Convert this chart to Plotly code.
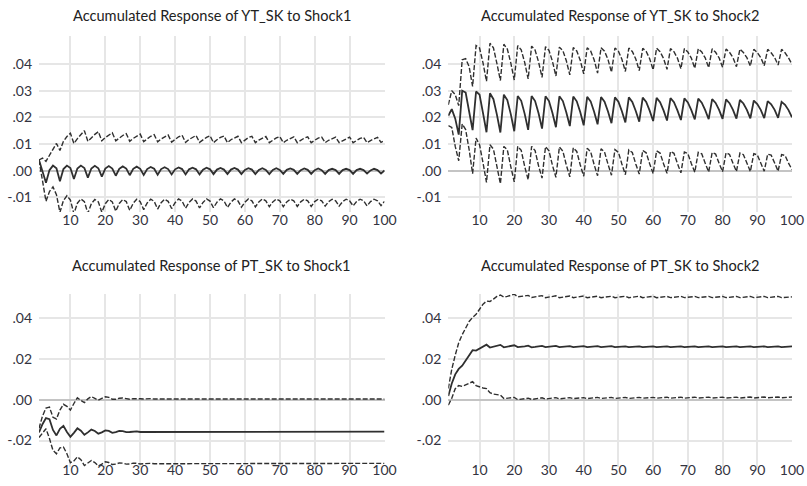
import plotly.graph_objects as go
from plotly.subplots import make_subplots

# horizon 1..100
periods = list(range(1, 101))

# all responses below are in units of 0.001
yt_s1_upper = [4.0, 4.7, 3.5, 6.0, 8.0, 10.2, 7.6, 11.0, 12.8, 14.0,
               10.2, 12.0, 13.6, 15.0, 11.0, 12.5, 13.6, 14.6, 11.2, 12.4,
               13.4, 14.2, 11.2, 12.3, 13.2, 13.9, 11.0, 12.1, 13.0, 13.7,
               10.9, 12.0, 12.9, 13.5, 10.8, 11.9, 12.8, 13.4, 10.7, 11.8,
               12.7, 13.3, 10.6, 11.7, 12.6, 13.2, 10.6, 11.7, 12.5, 13.1,
               10.5, 11.6, 12.5, 13.0, 10.5, 11.6, 12.4, 12.9, 10.5, 11.5,
               12.4, 12.9, 10.5, 11.5, 12.3, 12.8, 10.5, 11.5, 12.3, 12.8,
               10.5, 11.4, 12.2, 12.7, 10.5, 11.4, 12.2, 12.7, 10.5, 11.4,
               12.2, 12.6, 10.5, 11.4, 12.1, 12.6, 10.5, 11.3, 12.1, 12.6,
               10.5, 11.3, 12.1, 12.5, 10.5, 11.3, 12.0, 12.5, 10.6, 11.3]
yt_s1_resp = [4.0, 0.0, -4.5, 0.2, 1.9, 0.9, -4.0, 0.6, 1.9, 1.0,
              -3.1, 0.8, 1.9, 1.0, -2.6, 0.8, 1.8, 0.9, -2.2, 0.8,
              1.7, 0.8, -1.9, 0.7, 1.6, 0.8, -1.7, 0.7, 1.5, 0.7,
              -1.6, 0.6, 1.4, 0.7, -1.5, 0.6, 1.3, 0.6, -1.4, 0.5,
              1.2, 0.6, -1.4, 0.5, 1.1, 0.5, -1.4, 0.4, 1.1, 0.5,
              -1.3, 0.4, 1.0, 0.4, -1.3, 0.4, 1.0, 0.4, -1.3, 0.3,
              0.9, 0.4, -1.3, 0.3, 0.9, 0.3, -1.3, 0.3, 0.9, 0.3,
              -1.2, 0.3, 0.8, 0.3, -1.2, 0.2, 0.8, 0.3, -1.2, 0.2,
              0.8, 0.2, -1.2, 0.2, 0.7, 0.2, -1.2, 0.2, 0.7, 0.2,
              -1.2, 0.2, 0.7, 0.2, -1.1, 0.1, 0.7, 0.2, -1.1, 0.1]
yt_s1_lower = [4.0, -4.0, -11.5, -7.8, -6.1, -9.0, -15.6, -11.2, -9.4, -11.0,
               -16.2, -12.2, -10.6, -11.6, -16.0, -12.4, -10.8, -11.7, -15.6, -12.4,
               -10.8, -11.7, -15.2, -12.3, -10.8, -11.6, -14.9, -12.2, -10.7, -11.6,
               -14.6, -12.1, -10.7, -11.5, -14.4, -12.0, -10.7, -11.5, -14.2, -12.0,
               -10.6, -11.4, -14.1, -11.9, -10.6, -11.4, -14.0, -11.9, -10.6, -11.4,
               -13.9, -11.8, -10.6, -11.3, -13.8, -11.8, -10.6, -11.3, -13.7, -11.8,
               -10.6, -11.3, -13.6, -11.7, -10.6, -11.3, -13.5, -11.7, -10.6, -11.3,
               -13.5, -11.7, -10.7, -11.3, -13.4, -11.7, -10.7, -11.3, -13.4, -11.6,
               -10.7, -11.3, -13.3, -11.6, -10.7, -11.3, -13.3, -11.6, -10.7, -11.3,
               -13.2, -11.6, -10.7, -11.3, -13.2, -11.6, -10.7, -11.3, -13.1, -11.5]

yt_s2_upper = [24.7, 30.0, 28.5, 24.4, 41.6, 42.0, 39.0, 31.6, 46.9, 46.0,
               40.4, 33.5, 47.8, 46.1, 40.2, 33.8, 47.4, 45.6, 40.4, 34.0,
               46.9, 45.3, 40.6, 34.4, 46.7, 45.2, 40.8, 35.0, 46.5, 45.1,
               41.0, 35.5, 46.3, 45.0, 41.2, 35.9, 46.2, 44.9, 41.4, 36.3,
               46.1, 44.9, 41.6, 36.6, 46.1, 44.8, 41.7, 36.9, 46.0, 44.8,
               41.8, 37.2, 46.0, 44.7, 41.9, 37.5, 45.9, 44.7, 42.0, 37.8,
               45.9, 44.6, 42.1, 38.0, 45.8, 44.6, 42.2, 38.2, 45.8, 44.5,
               42.2, 38.4, 45.7, 44.5, 42.3, 38.6, 45.7, 44.4, 42.3, 38.8,
               45.6, 44.4, 42.4, 39.0, 45.6, 44.3, 42.4, 39.2, 45.5, 44.3,
               42.4, 39.4, 45.5, 44.2, 42.4, 39.6, 45.5, 44.2, 42.3, 39.9]
yt_s2_resp = [20.6, 23.1, 19.5, 13.5, 30.0, 29.3, 22.2, 15.2, 29.7, 28.5,
              21.6, 14.4, 29.0, 26.8, 21.0, 14.3, 28.5, 26.5, 21.2, 14.8,
              28.0, 26.2, 21.3, 15.3, 28.0, 26.1, 21.5, 15.8, 27.9, 26.1,
              21.6, 16.3, 27.9, 26.1, 21.8, 16.7, 27.8, 26.0, 22.0, 17.0,
              27.7, 26.0, 22.1, 17.4, 27.6, 25.9, 22.2, 17.8, 27.5, 25.9,
              22.3, 18.1, 27.5, 25.8, 22.4, 18.4, 27.4, 25.8, 22.5, 18.6,
              27.3, 25.7, 22.6, 18.8, 27.2, 25.7, 22.6, 19.0, 27.1, 25.6,
              22.7, 19.2, 27.0, 25.5, 22.7, 19.3, 26.8, 25.4, 22.8, 19.4,
              26.7, 25.3, 22.8, 19.5, 26.5, 25.2, 22.8, 19.6, 26.3, 25.0,
              22.8, 19.7, 26.1, 24.9, 22.8, 19.8, 25.8, 24.7, 22.7, 20.0]
yt_s2_lower = [16.9, 16.2, 9.1, 3.7, 17.5, 15.4, 7.9, -1.1, 12.2, 9.7,
               2.9, -4.4, 9.7, 8.1, 1.6, -4.9, 9.1, 7.8, 1.5, -4.2,
               9.1, 7.6, 1.6, -3.4, 9.1, 7.5, 1.8, -2.8, 9.0, 7.4,
               2.0, -2.5, 8.9, 7.3, 2.1, -2.3, 8.6, 7.2, 2.2, -2.1,
               8.4, 7.1, 2.3, -1.9, 8.2, 7.0, 2.4, -1.7, 7.9, 6.9,
               2.5, -1.5, 7.8, 6.8, 2.5, -1.3, 7.6, 6.7, 2.6, -1.1,
               7.4, 6.6, 2.6, -1.0, 7.2, 6.5, 2.7, -0.8, 7.0, 6.4,
               2.7, -0.6, 6.9, 6.3, 2.8, -0.5, 6.8, 6.2, 2.8, -0.4,
               6.7, 6.1, 2.8, -0.3, 6.6, 6.0, 2.9, -0.3, 6.4, 5.9,
               2.9, -0.2, 6.2, 5.8, 2.9, -0.2, 6.0, 5.7, 2.8, 0.4]

pt_s1_upper = [-14.0, -8.0, -4.0, -3.6, -8.6, -9.4, -5.0, -2.2, -3.2, -5.0,
               -1.8, 1.0, -0.3, -1.4, 0.5, 1.6, 0.7, -0.2, 0.7, 1.5,
               1.2, 0.3, 0.3, 0.8, 0.9, 0.5, 0.3, 0.6, 0.7, 0.5,
               0.4, 0.6, 0.6, 0.4, 0.4, 0.5, 0.6, 0.4, 0.4, 0.5,
               0.6, 0.5, 0.4, 0.4, 0.5, 0.6, 0.4, 0.4, 0.5, 0.5,
               0.4, 0.4, 0.5, 0.5, 0.4, 0.4, 0.5, 0.5, 0.4, 0.4,
               0.5, 0.5, 0.4, 0.4, 0.5, 0.5, 0.4, 0.4, 0.5, 0.5,
               0.4, 0.4, 0.5, 0.5, 0.4, 0.4, 0.5, 0.5, 0.4, 0.4,
               0.5, 0.5, 0.4, 0.4, 0.5, 0.5, 0.4, 0.4, 0.5, 0.5,
               0.4, 0.4, 0.5, 0.5, 0.4, 0.4, 0.5, 0.5, 0.4, 0.4]
pt_s1_resp = [-16.0, -12.0, -9.0, -9.5, -14.8, -17.5, -14.2, -12.8, -15.8, -18.2,
              -16.2, -14.0, -15.2, -17.2, -16.0, -14.6, -15.3, -16.6, -16.0, -15.0,
              -15.3, -16.2, -15.9, -15.3, -15.4, -15.9, -15.8, -15.5, -15.5, -15.8,
              -15.8, -15.6, -15.6, -15.8, -15.7, -15.6, -15.6, -15.8, -15.7, -15.6,
              -15.6, -15.7, -15.7, -15.6, -15.6, -15.7, -15.7, -15.6, -15.7, -15.7,
              -15.7, -15.6, -15.6, -15.7, -15.7, -15.6, -15.6, -15.7, -15.7, -15.6,
              -15.6, -15.7, -15.7, -15.6, -15.6, -15.7, -15.7, -15.6, -15.6, -15.7,
              -15.7, -15.6, -15.6, -15.7, -15.7, -15.6, -15.6, -15.7, -15.7, -15.6,
              -15.6, -15.7, -15.7, -15.6, -15.6, -15.7, -15.7, -15.6, -15.6, -15.7,
              -15.7, -15.6, -15.6, -15.7, -15.7, -15.6, -15.6, -15.7, -15.7, -15.6]
pt_s1_lower = [-18.5, -16.5, -14.2, -19.0, -24.8, -26.5, -23.6, -23.2, -26.5, -30.9,
               -30.0, -28.0, -29.4, -32.3, -31.2, -29.8, -30.8, -32.5, -31.6, -30.4,
               -30.8, -31.8, -31.6, -31.0, -31.1, -31.6, -31.5, -31.1, -31.2, -31.5,
               -31.4, -31.2, -31.2, -31.4, -31.4, -31.2, -31.2, -31.4, -31.4, -31.2,
               -31.2, -31.4, -31.3, -31.2, -31.2, -31.4, -31.3, -31.2, -31.2, -31.4,
               -31.3, -31.2, -31.2, -31.3, -31.3, -31.2, -31.2, -31.3, -31.3, -31.2,
               -31.2, -31.3, -31.3, -31.2, -31.2, -31.3, -31.3, -31.2, -31.2, -31.3,
               -31.3, -31.2, -31.2, -31.3, -31.3, -31.2, -31.2, -31.3, -31.3, -31.2,
               -31.2, -31.3, -31.3, -31.2, -31.2, -31.3, -31.3, -31.2, -31.2, -31.3,
               -31.3, -31.2, -31.2, -31.3, -31.3, -31.2, -31.2, -31.3, -31.3, -31.2]

pt_s2_upper = [5.6, 15.0, 22.0, 28.0, 32.0, 35.5, 38.5, 40.5, 42.0, 44.5,
               47.0, 48.5, 48.3, 49.5, 50.8, 51.5, 50.5, 50.8, 51.3, 51.9,
               50.6, 50.8, 51.1, 51.3, 50.3, 50.6, 51.0, 51.2, 50.2, 50.4,
               50.8, 51.1, 50.2, 50.4, 50.7, 51.0, 50.2, 50.4, 50.7, 51.0,
               50.2, 50.4, 50.7, 50.9, 50.2, 50.4, 50.7, 50.9, 50.2, 50.4,
               50.6, 50.9, 50.2, 50.4, 50.6, 50.9, 50.2, 50.4, 50.6, 50.9,
               50.2, 50.4, 50.6, 50.8, 50.2, 50.4, 50.6, 50.8, 50.2, 50.4,
               50.6, 50.8, 50.2, 50.4, 50.6, 50.8, 50.2, 50.4, 50.6, 50.8,
               50.2, 50.4, 50.6, 50.8, 50.2, 50.4, 50.6, 50.8, 50.2, 50.4,
               50.6, 50.8, 50.2, 50.4, 50.6, 50.8, 50.2, 50.4, 50.6, 50.6]
pt_s2_resp = [1.9, 8.0, 12.5, 15.2, 16.8, 19.5, 22.3, 24.4, 24.2, 25.3,
              26.3, 27.1, 25.7, 26.2, 26.7, 27.0, 25.8, 26.1, 26.4, 26.8,
              25.9, 26.0, 26.3, 26.6, 25.8, 26.0, 26.3, 26.5, 25.9, 26.0,
              26.2, 26.5, 25.9, 26.0, 26.2, 26.4, 25.9, 26.0, 26.2, 26.4,
              25.9, 26.0, 26.2, 26.4, 25.9, 26.0, 26.2, 26.4, 25.9, 26.0,
              26.2, 26.3, 25.9, 26.0, 26.2, 26.3, 25.9, 26.0, 26.2, 26.3,
              25.9, 26.0, 26.2, 26.3, 25.9, 26.0, 26.2, 26.3, 25.9, 26.0,
              26.2, 26.3, 25.9, 26.0, 26.2, 26.3, 25.9, 26.0, 26.2, 26.3,
              25.9, 26.0, 26.2, 26.3, 25.9, 26.0, 26.2, 26.3, 25.9, 26.0,
              26.2, 26.3, 25.9, 26.0, 26.2, 26.3, 25.9, 26.0, 26.1, 26.3]
pt_s2_lower = [-2.6, 0.8, 5.5, 7.0, 6.6, 7.5, 8.2, 8.9, 7.0, 6.2,
               5.8, 5.5, 3.5, 2.8, 2.4, 2.3, 0.6, 0.8, 1.0, 1.2,
               0.1, 0.3, 0.6, 0.8, 0.2, 0.4, 0.7, 1.0, 0.4, 0.6,
               0.9, 1.1, 0.5, 0.7, 0.9, 1.1, 0.6, 0.7, 0.9, 1.1,
               0.6, 0.8, 1.0, 1.2, 0.7, 0.8, 1.0, 1.2, 0.7, 0.8,
               1.0, 1.2, 0.7, 0.9, 1.0, 1.2, 0.8, 0.9, 1.1, 1.2,
               0.8, 0.9, 1.1, 1.3, 0.8, 0.9, 1.1, 1.3, 0.8, 1.0,
               1.1, 1.3, 0.9, 1.0, 1.1, 1.3, 0.9, 1.0, 1.2, 1.3,
               0.9, 1.0, 1.2, 1.3, 0.9, 1.0, 1.2, 1.4, 0.9, 1.0,
               1.2, 1.4, 1.0, 1.1, 1.2, 1.4, 1.0, 1.1, 1.2, 1.4]

titles = ["Accumulated Response of YT_SK to Shock1",
          "Accumulated Response of YT_SK to Shock2",
          "Accumulated Response of PT_SK to Shock1",
          "Accumulated Response of PT_SK to Shock2"]

x_ticks = [10, 20, 30, 40, 50, 60, 70, 80, 90, 100]
top_yticks = [-0.01, 0.0, 0.01, 0.02, 0.03, 0.04]
top_ylabels = ["-.01", ".00", ".01", ".02", ".03", ".04"]
bot_yticks = [-0.02, 0.0, 0.02, 0.04]
bot_ylabels = ["-.02", ".00", ".02", ".04"]

panels = [
    (yt_s1_upper, yt_s1_resp, yt_s1_lower),
    (yt_s2_upper, yt_s2_resp, yt_s2_lower),
    (pt_s1_upper, pt_s1_resp, pt_s1_lower),
    (pt_s2_upper, pt_s2_resp, pt_s2_lower),
]

W, H = 807, 486
FONT = "Lato"
LINE = "#2f2f2f"
TICKCOL = "#333340"

fig = make_subplots(rows=2, cols=2)

for i, (up, mid, lo) in enumerate(panels):
    r, c = i // 2 + 1, i % 2 + 1
    for vals, dash, wd in [(up, "5px,2px", 1.4), (lo, "5px,2px", 1.4), (mid, "solid", 1.8)]:
        fig.add_trace(go.Scatter(
            x=periods, y=[v / 1000 for v in vals], mode="lines",
            line=dict(color=LINE, width=wd, dash=dash),
            showlegend=False, hoverinfo="skip"), row=r, col=c)

# panel frames in pixels (left, right, top, bottom)
left_x = [39 / W, 384.5 / W]
right_x = [448.3 / W, 792 / W]
top_y = [1 - 212 / H, 1 - 36 / H]
bot_y = [1 - 467 / H, 1 - 294 / H]

grid = "#e6e6e6"
common_x = dict(range=[1, 100], tickvals=x_ticks, showgrid=True, gridcolor=grid,
                gridwidth=1.5, zeroline=False, showline=False, ticks="", automargin=False,
                tickfont=dict(family=FONT, size=14, color=TICKCOL))
common_y = dict(showgrid=True, gridcolor=grid, gridwidth=1.5, zeroline=True,
                zerolinecolor="#c4c4c4", zerolinewidth=1.5, showline=False, ticks="",
                automargin=False, ticklabelstandoff=6,
                tickfont=dict(family=FONT, size=14, color=TICKCOL))

fig.update_layout(
    template="none",
    xaxis=dict(domain=left_x, ticklabelstandoff=-2, **common_x),
    xaxis2=dict(domain=right_x, ticklabelstandoff=-2, **common_x),
    xaxis3=dict(domain=left_x, ticklabelstandoff=-7, **common_x),
    xaxis4=dict(domain=right_x, ticklabelstandoff=-7, **common_x),
    yaxis=dict(domain=top_y, range=[-0.0155, 0.0505], tickvals=top_yticks, ticktext=top_ylabels, **common_y),
    yaxis2=dict(domain=top_y, range=[-0.0155, 0.0505], tickvals=top_yticks, ticktext=top_ylabels, **common_y),
    yaxis3=dict(domain=bot_y, range=[-0.033, 0.052], tickvals=bot_yticks, ticktext=bot_ylabels, **common_y),
    yaxis4=dict(domain=bot_y, range=[-0.033, 0.052], tickvals=bot_yticks, ticktext=bot_ylabels, **common_y),
)

title_pos = [(211.75, 15), (620, 15), (211.75, 265), (620, 265)]
for t, (px, py) in zip(titles, title_pos):
    fig.add_annotation(text=t, x=px / W, y=1 - py / H, xref="paper", yref="paper",
                       showarrow=False, xanchor="center", yanchor="middle",
                       font=dict(family=FONT, size=14.6, color="#222222"))

fig.update_layout(width=W, height=H, margin=dict(l=0, r=0, t=0, b=0),
                  paper_bgcolor="white", plot_bgcolor="white")

# the page body has a default 8px margin; drop it so the figure fills the window
fig.write_html("out.html", config={"displayModeBar": False},
               post_script="document.body.style.margin='0px';")
